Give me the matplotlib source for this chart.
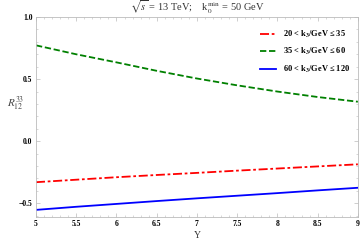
import numpy as np
import matplotlib
matplotlib.use('Agg')
import matplotlib.pyplot as plt
from matplotlib.ticker import MultipleLocator

plt.rcParams['font.family'] = 'Liberation Serif'
plt.rcParams['mathtext.fontset'] = 'stix'

# data
Y = [5, 5.5, 6, 6.5, 7, 7.5, 8, 8.5, 9]
r_low = [-0.330, -0.310, -0.290, -0.272, -0.255, -0.237, -0.220, -0.203, -0.186]
r_mid = [0.772, 0.700, 0.635, 0.567, 0.505, 0.450, 0.400, 0.356, 0.318]
r_high = [-0.553, -0.528, -0.505, -0.482, -0.460, -0.439, -0.418, -0.396, -0.375]
labels = [r'20 < k$_\mathbf{3}$/GeV ≤ 35', r'35 < k$_\mathbf{3}$/GeV ≤ 60', r'60 < k$_\mathbf{3}$/GeV ≤ 120']

fig = plt.figure(figsize=(3.6, 2.4), dpi=100)
ax = fig.add_axes([0.1, 0.096, 0.894, 0.833])

ax.plot(Y, r_low, color='red', lw=1.3, dashes=(5, 1.5, 1.5, 1.5), label=labels[0])
ax.plot(Y, r_mid, color='green', lw=1.3, dashes=(3.5, 1.5), label=labels[1])
ax.plot(Y, r_high, color='blue', lw=1.3, label=labels[2])

ax.set_xlim(5, 9)
ax.set_ylim(-0.61, 1.0)
ax.xaxis.set_major_locator(MultipleLocator(0.5))
ax.yaxis.set_major_locator(MultipleLocator(0.5))
ax.xaxis.set_minor_locator(MultipleLocator(0.1))
ax.yaxis.set_minor_locator(MultipleLocator(0.1))
ax.xaxis.set_major_formatter(plt.FuncFormatter(lambda v, p: ('%g' % v)))
ax.yaxis.set_major_formatter(plt.FuncFormatter(lambda v, p: ('%.1f' % v).replace('-', '\u2212')))
ax.tick_params(which='both', direction='in', colors='#bbbbbb', labelcolor='black',
               labelsize=5.5, top=True, right=True, pad=2.5)
ax.tick_params(which='major', length=3, width=0.5)
ax.tick_params(which='minor', length=1.5, width=0.4)
for t in ax.get_xticklabels() + ax.get_yticklabels():
    t.set_fontweight('bold')
for s in ax.spines.values():
    s.set_color('#bbbbbb')
    s.set_linewidth(0.6)

ax.set_xlabel('Y', fontsize=7, labelpad=2, color='#333333')
ax.set_ylabel(r'$R_{12}^{33}$', fontsize=8, rotation=0, labelpad=4, color='#444444')
ax.yaxis.set_label_coords(-0.062, 0.52)
ax.set_title(r'$\sqrt{s}$ = 13 TeV;    k$_0^{\rm min}$ = 50 GeV', fontsize=7.5, pad=4, color='#333333')

leg = ax.legend(loc='upper right', fontsize=6, frameon=False, handlelength=2.0,
                labelspacing=0.75, borderaxespad=0.5, bbox_to_anchor=(1.0, 0.98))
for t in leg.get_texts():
    t.set_fontweight('bold')

fig.savefig('out.png', dpi=100)
